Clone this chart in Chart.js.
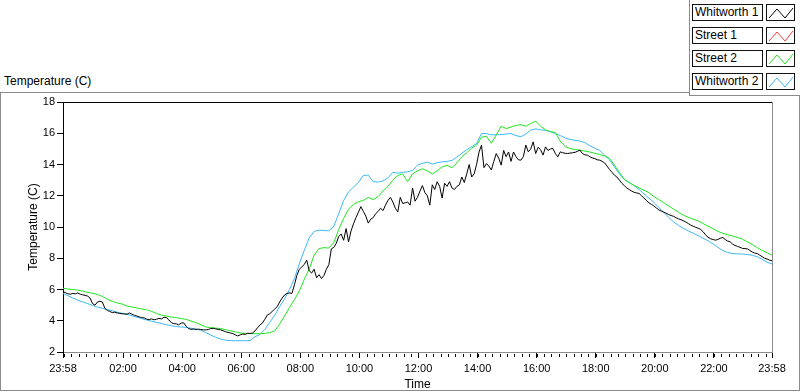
<!DOCTYPE html>
<html>
<head>
<meta charset="utf-8">
<script src="https://cdn.jsdelivr.net/npm/chart.js@4/dist/chart.umd.min.js"></script>
<style>
  body { margin: 0; background: #fff; font-family: "Liberation Sans", Arial, sans-serif; }
  #wrap { position: relative; width: 800px; height: 392px; overflow: hidden; }
  #frame { position: absolute; left: 0; top: 92px; width: 798px; height: 297px; border: 1px solid #8a8a8a; }
  #title { position: absolute; left: 4px; top: 74px; font-size: 12px; color: #000; }
  #legendPanel { position: absolute; left: 689px; top: 0; width: 111px; height: 95px; background: #fff;
                 border-left: 1px solid #8a8a8a; border-bottom: 1px solid #8a8a8a; }
  .lgLabel { position: absolute; left: 692px; width: 69px; height: 15px; border: 1px solid #111;
             font-size: 12px; line-height: 15px; padding-left: 0; text-indent: 2px; white-space: nowrap; background: #fff; }
  .lgIcon { position: absolute; left: 766px; width: 27px; height: 15px; border: 1px solid #111; background: #fff; }
  canvas { position: absolute; left: 0; top: 0; }
</style>
</head>
<body>
<div id="wrap">
  <div id="frame"></div>
  <div id="title">Temperature (C)</div>
  <canvas id="myChart" width="800" height="392"></canvas>
  <div id="legendPanel"></div>
</div>
<script>
// series names and colours, in legend order
const seriesNames = ['Whitworth 1', 'Street 1', 'Street 2', 'Whitworth 2'];
const seriesColors = ['#000000', '#ff3b3b', '#1ee61e', '#3cb8f5'];

// x tick positions (minutes after 23:58) and their labels
const xTickMinutes = [0, 122, 242, 362, 482, 602, 722, 842, 962, 1082, 1202, 1322, 1440];
const xTickLabels = ['23:58', '02:00', '04:00', '06:00', '08:00', '10:00', '12:00', '14:00', '16:00', '18:00', '20:00', '22:00', '23:58'];

// Whitworth 1, one reading every 5 min from 23:58 (12 per row = 1 hour)
const whitworth1 = [
  5.84, 5.8, 5.72, 5.7, 5.75, 5.72, 5.78, 5.7, 5.66, 5.62, 5.58, 5.45,
  5.1, 5.0, 5.2, 5.25, 5.2, 4.8, 4.66, 4.6, 4.52, 4.55, 4.5, 4.47,
  4.45, 4.43, 4.42, 4.5, 4.42, 4.35, 4.3, 4.25, 4.2, 4.18, 4.1, 4.08,
  4.12, 4.06, 4.1, 4.15, 4.12, 4.22, 4.2, 4.05, 3.88, 3.82, 3.8, 3.74,
  3.85, 3.87, 3.65, 3.5, 3.45, 3.47, 3.45, 3.46, 3.44, 3.42, 3.41, 3.44,
  3.5, 3.52, 3.48, 3.45, 3.42, 3.36, 3.3, 3.25, 3.22, 3.18, 3.1, 3.03,
  3.1, 3.15, 3.13, 3.2, 3.18, 3.22, 3.35, 3.55, 3.73, 3.85, 4.1, 4.37,
  4.45, 4.6, 4.75, 4.9, 5.2, 5.45, 5.65, 5.75, 5.78, 5.75, 6.3, 6.9,
  7.3, 7.45, 7.6, 7.88, 7.2, 7.05, 7.3, 6.75, 6.95, 6.7, 6.9, 7.3,
  7.6, 8.6, 8.7, 8.95, 9.4, 9.55, 9.15, 9.9, 9.05, 9.75, 10.2, 10.6,
  10.95, 11.3, 11.0, 10.7, 10.25, 10.5, 10.6, 10.85, 11.0, 11.2, 11.05, 11.4,
  11.7, 11.9, 11.6, 11.2, 10.97, 11.9, 11.5, 11.55, 11.6, 11.4, 12.5, 11.65,
  11.9, 12.3, 12.65, 12.2, 12.0, 11.4, 12.7, 12.4, 12.9, 12.6, 11.85, 12.8,
  12.6, 12.9, 12.5, 12.4, 12.6, 12.7, 13.2, 12.85, 13.4, 14.0, 13.2, 13.4,
  14.0, 14.8, 15.24, 13.8, 14.05, 13.9, 13.65, 14.2, 14.7, 14.4, 13.96, 14.9,
  14.5, 14.8, 14.2, 14.8, 14.5, 14.3, 14.28, 14.5, 15.24, 14.81, 15.0, 15.45,
  14.7, 15.1, 14.95, 14.6, 15.13, 14.9, 15.0, 15.02, 14.7, 14.49, 14.81, 14.75,
  14.72, 14.7, 14.73, 14.75, 14.78, 14.85, 14.92, 14.7, 14.62, 14.6, 14.5, 14.42,
  14.38, 14.3, 14.28, 14.2, 14.1, 13.9, 13.68, 13.5, 13.32, 13.2, 13.0, 12.8,
  12.65, 12.5, 12.4, 12.3, 12.22, 12.18, 12.15, 12.0, 11.85, 11.7, 11.55, 11.45,
  11.35, 11.22, 11.1, 11.02, 10.95, 10.88, 10.8, 10.74, 10.68, 10.6, 10.52, 10.47,
  10.4, 10.32, 10.22, 10.12, 10.05, 9.98, 9.92, 9.85, 9.7, 9.5, 9.35, 9.25,
  9.2, 9.16, 9.2, 9.28, 9.33, 9.2, 9.1, 9.05, 8.9, 8.82, 8.76, 8.7,
  8.63, 8.62, 8.6, 8.5, 8.4, 8.33, 8.3, 8.2, 8.1, 8.0, 7.95, 7.88,
  7.84
];

// Street 1 has no readings in this picture
const street1 = [];

// Street 2, one reading every 10 min from 23:58 (6 per row = 1 hour)
const street2 = [
  6.08, 6.03, 6.0, 5.96, 5.9, 5.82,
  5.76, 5.68, 5.56, 5.38, 5.24, 5.14,
  5.07, 4.94, 4.88, 4.82, 4.75, 4.70,
  4.60, 4.46, 4.36, 4.30, 4.24, 4.20,
  4.14, 4.09, 3.98, 3.88, 3.75, 3.60,
  3.56, 3.53, 3.50, 3.43, 3.36, 3.28,
  3.22, 3.19, 3.18, 3.17, 3.18, 3.19,
  3.24, 3.35, 3.78, 4.3, 4.85, 5.35,
  5.9, 6.65, 7.3, 8.2, 8.62, 8.68,
  8.65, 9.0, 9.85, 10.55, 11.15, 11.45,
  11.62, 11.7, 11.9, 11.75, 11.95, 12.3,
  12.6, 13.0, 13.3, 13.4, 12.9, 13.4,
  13.6, 13.72, 13.6, 13.4, 13.6, 13.85,
  13.94, 13.8, 14.1, 14.5, 14.75, 15.05,
  15.24, 15.75, 15.8, 15.36, 15.9, 16.45,
  16.3, 16.4, 16.5, 16.55, 16.45, 16.62,
  16.78, 16.45, 16.22, 16.1, 16.05, 15.5,
  15.15, 15.02, 14.96, 14.92, 14.86, 14.8,
  14.72, 14.64, 14.55, 14.4, 13.95, 13.5,
  13.05, 12.85, 12.66, 12.5, 12.35, 12.2,
  11.95, 11.76, 11.55, 11.35, 11.15, 10.95,
  10.76, 10.62, 10.5, 10.4, 10.22, 10.06,
  9.9, 9.72, 9.6, 9.5, 9.42, 9.33,
  9.22, 9.05, 8.88, 8.68, 8.5, 8.35,
  8.2
];

// Whitworth 2, one reading every 10 min from 23:58
const whitworth2 = [
  5.75, 5.6, 5.45, 5.32, 5.2, 5.1,
  4.98, 4.88, 4.8, 4.72, 4.64, 4.55,
  4.48, 4.42, 4.32, 4.22, 4.14, 4.05,
  3.97, 3.9, 3.82, 3.75, 3.68, 3.63,
  3.6, 3.58, 3.52, 3.46, 3.4, 3.24,
  3.08, 2.95, 2.83, 2.76, 2.73, 2.72,
  2.72, 2.72, 2.74, 2.98, 3.12, 3.45,
  3.9, 4.35, 4.9, 5.4, 6.0, 6.7,
  7.65, 8.5, 9.3, 9.72, 9.8, 9.77,
  9.76, 10.05, 10.85, 11.7, 12.25, 12.55,
  12.85, 13.3, 13.32, 12.9, 12.88, 12.95,
  13.15, 13.5, 13.45, 13.5, 13.53, 13.62,
  13.96, 14.08, 14.15, 14.02, 14.12, 14.17,
  14.2, 14.26, 14.48, 14.72, 14.95, 15.15,
  15.34, 15.98, 15.98, 15.9, 15.9, 15.92,
  15.95, 15.98, 15.85, 15.78, 15.95, 16.2,
  16.28, 16.22, 16.18, 16.1, 15.98, 15.85,
  15.7, 15.6, 15.55, 15.5, 15.4, 15.2,
  15.05, 14.9, 14.6, 14.3, 13.85, 13.4,
  13.05, 12.85, 12.65, 12.4, 12.12, 11.85,
  11.58, 11.25, 10.95, 10.62, 10.33, 10.1,
  9.91, 9.75, 9.6, 9.45, 9.28, 9.12,
  8.92, 8.7, 8.5, 8.36, 8.3, 8.28,
  8.27, 8.24, 8.19, 8.1, 7.92, 7.75,
  7.63
];

const toPoints = (vals, stepMin) => vals.map((v, i) => ({ x: i * stepMin, y: v }));

// legend, LabVIEW style boxes
const panel = document.getElementById('wrap');
seriesNames.forEach((name, i) => {
  const top = 4 + i * 23;
  const lab = document.createElement('div');
  lab.className = 'lgLabel';
  lab.style.top = top + 'px';
  lab.textContent = name;
  panel.appendChild(lab);
  const ic = document.createElement('div');
  ic.className = 'lgIcon';
  ic.style.top = top + 'px';
  ic.innerHTML = '<svg width="27" height="15"><polyline points="2,13 10,4 18,13 26,3" fill="none" stroke="' +
    seriesColors[i] + '" stroke-width="1"/></svg>';
  panel.appendChild(ic);
});

// minor ticks every 15 min from midnight, plus plot frame
const framePlugin = {
  id: 'frame',
  afterDraw(chart) {
    const { ctx, chartArea: a, scales: { x } } = chart;
    ctx.save();
    ctx.lineWidth = 1;
    ctx.strokeStyle = '#000';
    ctx.beginPath();
    for (let m = 2; m <= 1440; m += 15) {
      const px = Math.round(x.getPixelForValue(m)) + 0.5;
      ctx.moveTo(px, a.bottom + 2);
      ctx.lineTo(px, a.bottom + 5);
    }
    ctx.stroke();
    ctx.beginPath();
    ctx.moveTo(a.left, a.top + 0.5);
    ctx.lineTo(a.right, a.top + 0.5);
    ctx.stroke();
    ctx.strokeStyle = '#8a8a8a';
    ctx.beginPath();
    ctx.moveTo(a.right + 0.5, a.top);
    ctx.lineTo(a.right + 0.5, a.bottom);
    ctx.stroke();
    ctx.restore();
  }
};

const ctx = document.getElementById('myChart');
const myChart = new Chart(ctx, {
  type: 'line',
  data: {
    datasets: [
      { label: seriesNames[0], data: toPoints(whitworth1, 5), borderColor: seriesColors[0] },
      { label: seriesNames[1], data: toPoints(street1, 10), borderColor: seriesColors[1] },
      { label: seriesNames[2], data: toPoints(street2, 10), borderColor: seriesColors[2] },
      { label: seriesNames[3], data: toPoints(whitworth2, 10), borderColor: seriesColors[3] }
    ]
  },
  options: {
    responsive: false,
    animation: false,
    devicePixelRatio: 1,
    layout: { padding: { left: 0, right: 28, top: 102, bottom: 0 } },
    elements: {
      line: { borderWidth: 1, tension: 0 },
      point: { radius: 0, hoverRadius: 0 }
    },
    plugins: { legend: { display: false }, tooltip: { enabled: false } },
    scales: {
      x: {
        type: 'linear',
        min: 0,
        max: 1440,
        afterFit: s => { s.height = 40; },
        afterBuildTicks: s => { s.ticks = xTickMinutes.map(v => ({ value: v })); },
        ticks: {
          autoSkip: false,
          maxRotation: 0,
          padding: 4,
          color: '#000',
          font: { family: 'Liberation Sans', size: 11 },
          callback: (v, i) => xTickLabels[i]
        },
        grid: { drawOnChartArea: false, tickLength: 6, tickColor: '#000' },
        border: { color: '#8a8a8a' },
        title: { display: true, text: 'Time', color: '#000', padding: 0,
                 font: { family: 'Liberation Sans', size: 12 } }
      },
      y: {
        min: 2,
        max: 18,
        afterFit: s => { s.width = 63; },
        ticks: { stepSize: 2, padding: 2, color: '#000',
                 font: { family: 'Liberation Sans', size: 11 } },
        grid: { drawOnChartArea: false, tickLength: 6, tickColor: '#000' },
        border: { color: '#000' },
        title: { display: true, text: 'Temperature (C)', color: '#000', padding: { top: 26, bottom: 0 },
                 font: { family: 'Liberation Sans', size: 12 } }
      }
    }
  },
  plugins: [framePlugin]
});
</script>
</body>
</html>
